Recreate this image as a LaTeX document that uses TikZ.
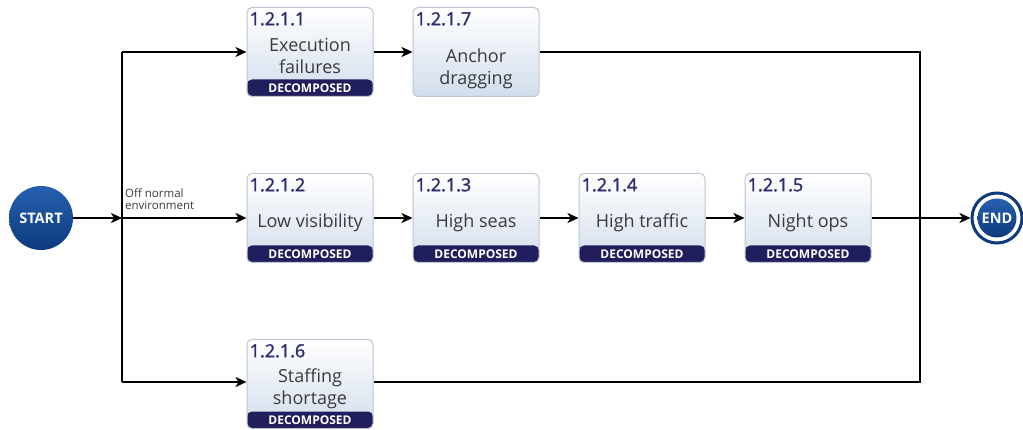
\documentclass[tikz,border=0pt]{standalone}
\usepackage{fontspec}
\setmainfont{Open Sans}
\newfontfamily\idfont{Open Sans}[FakeBold=1.6]
\usetikzlibrary{arrows.meta,calc}

\definecolor{navy}{RGB}{32,30,92}
\definecolor{idcol}{RGB}{46,42,110}
\definecolor{txtcol}{RGB}{58,58,62}
\definecolor{boxline}{RGB}{188,198,212}
\definecolor{boxbot}{RGB}{210,221,235}
\definecolor{circtop}{RGB}{38,96,176}
\definecolor{circbot}{RGB}{12,58,124}

\tikzset{
  flow/.style={line width=2pt, draw=black},
  arr/.style={flow, -{Stealth[length=11pt,width=10pt,inset=3pt]}},
  tbox/.style={draw=boxline, line width=1pt, rounded corners=5pt,
    minimum width=126pt, minimum height=89pt, inner sep=0pt,
    top color=white, bottom color=boxbot},
  bandbox/.style={tbox, path picture={\fill[navy]
      (path picture bounding box.south west) rectangle
      ([yshift=17pt]path picture bounding box.south east);}},
  idtxt/.style={font=\idfont\fontsize{18}{19}\selectfont, text=idcol, inner sep=0pt},
  titletxt/.style={font=\fontsize{18}{22}\selectfont, text=txtcol, align=center, inner sep=0pt},
  bandtxt/.style={font=\fontsize{12}{13}\selectfont\bfseries, text=white, inner sep=0pt},
  termtxt/.style={font=\fontsize{14.5}{16}\selectfont\bfseries, text=white},
}

% #1 name, #2 centre, #3 id, #4 title, #5 title offset below centre
\newcommand\taskbox[5]{%
  \node[bandbox] (#1) at #2 {};
  \node[idtxt, anchor=north west] at ([xshift=3pt,yshift=-5pt]#1.north west) {#3};
  \node[titletxt] at ([yshift=-#5pt]#1.center) {#4};
  \node[bandtxt] at ([yshift=8.5pt]#1.south) {DECOMPOSED};
}
\newcommand\plainbox[5]{%
  \node[tbox] (#1) at #2 {};
  \node[idtxt, anchor=north west] at ([xshift=3pt,yshift=-5pt]#1.north west) {#3};
  \node[titletxt] at ([yshift=-#5pt]#1.center) {#4};
}

\begin{document}
\begin{tikzpicture}[x=1pt,y=-1pt]
  \useasboundingbox (0,0) rectangle (1023,430);

  % terminals
  \node[circle, minimum size=64pt, inner sep=0pt, top color=circtop, bottom color=circbot,
        termtxt] (start) at (41,218) {START};
  \node[circle, minimum size=50pt, inner sep=0pt, draw=circbot, line width=3pt, fill=white] (endo) at (997,218) {};
  \node[circle, minimum size=39pt, inner sep=0pt, top color=circtop, bottom color=circbot,
        termtxt] (endi) at (997,218) {END};

  % tasks
  \taskbox{b1}{(310,52)}{1.2.1.1}{Execution\\failures}{4}
  \plainbox{b7}{(476,52)}{1.2.1.7}{Anchor\\dragging}{17}
  \taskbox{b2}{(310,218)}{1.2.1.2}{Low visibility}{5}
  \taskbox{b3}{(476,218)}{1.2.1.3}{High seas}{5}
  \taskbox{b4}{(642,218)}{1.2.1.4}{High traffic}{5}
  \taskbox{b5}{(808,218)}{1.2.1.5}{Night ops}{5}
  \taskbox{b6}{(310,384)}{1.2.1.6}{Staffing\\shortage}{5}

  % split and join points
  \coordinate (split) at (122,218);
  \coordinate (stop) at (122,52);
  \coordinate (sbot) at (122,382);
  \coordinate (jtop) at (920,52);
  \coordinate (jbot) at (920,382);

  \node[anchor=south west, inner sep=0pt, align=left, text=txtcol,
        font=\fontsize{11.5}{12.5}\selectfont] (cond) at (125,210) {Off normal\\environment};

  % connectors
  \draw[flow] (stop) -- (sbot);
  \draw[arr] (start) -- (split);
  \draw[arr] (stop) -- (b1.west);
  \draw[arr] (split) -- (b2.west);
  \draw[arr] (sbot) -- (b6.west |- sbot);
  \draw[arr] (b1) -- (b7);
  \draw[arr] (b2) -- (b3);
  \draw[arr] (b3) -- (b4);
  \draw[arr] (b4) -- (b5);
  \draw[arr] (b5) -- (endo);
  \draw[flow] (b7.east) -- (jtop) -- (jbot) -- (b6.east |- jbot);
\end{tikzpicture}
\end{document}
